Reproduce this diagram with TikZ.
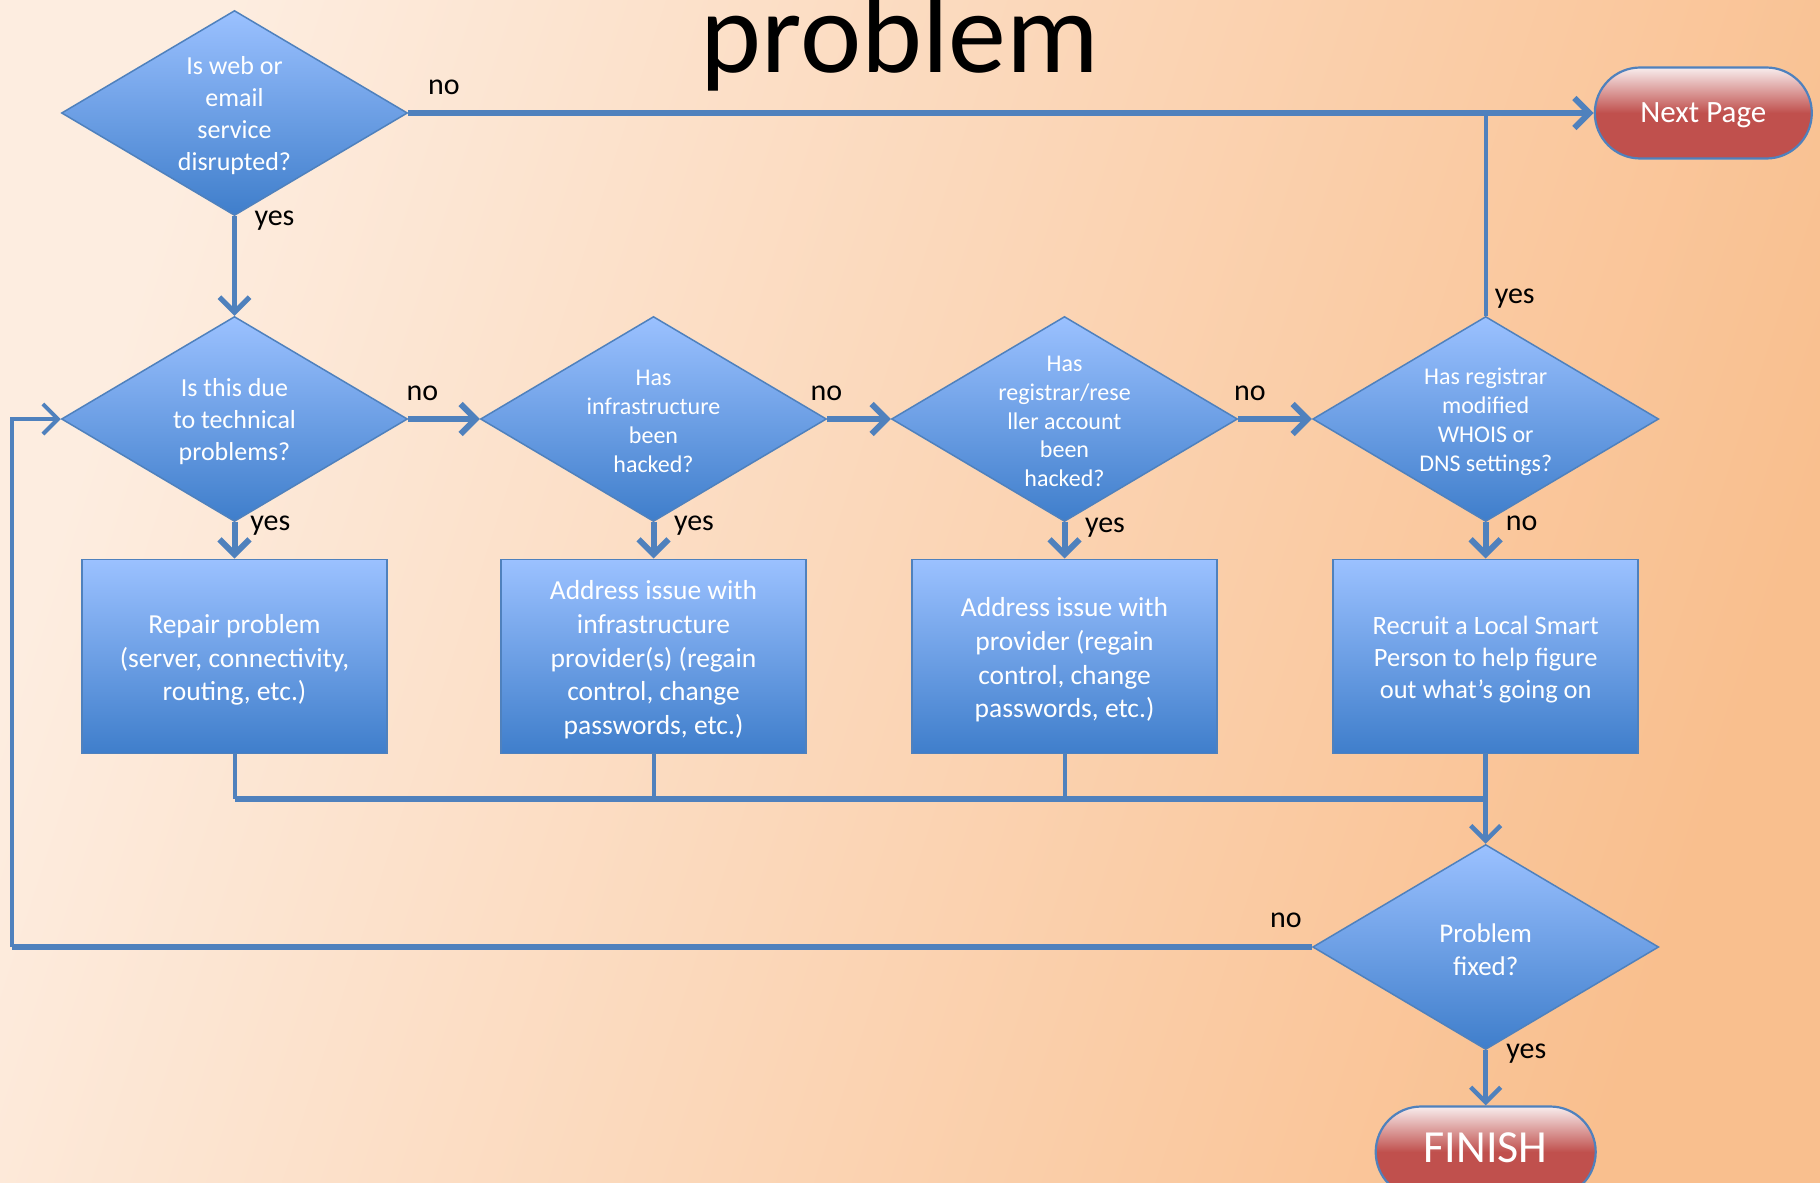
\documentclass[tikz,border=0pt]{standalone}
\usepackage{fontspec}
\setmainfont{Carlito}
\usetikzlibrary{shapes.geometric,shapes.misc,arrows.meta}
\definecolor{lineblue}{HTML}{4F81BD}
\definecolor{dtop}{HTML}{9BC1FF}
\definecolor{dbot}{HTML}{3F7ECB}
\definecolor{rtop}{HTML}{F8EDED}
\definecolor{rmid}{HTML}{C0504D}
\definecolor{bgA}{HTML}{FDEDE0}
\definecolor{bgB}{HTML}{F9BF8E}
\begin{document}
\begin{tikzpicture}[x=1pt,y=-1pt,
  conn/.style={draw=lineblue, line width=6pt},
  connthin/.style={draw=lineblue, line width=4pt},
  arr/.style={conn, -{Straight Barb[length=15pt,width=30pt]}},
  dia/.style={diamond, draw=lineblue, line width=1.5pt, top color=dtop, bottom color=dbot, inner sep=0pt, minimum width=346pt, minimum height=205pt},
  dtxt/.style={text=white, align=center, inner sep=0pt, yshift=-2.5pt},
  procbox/.style={rectangle, draw=lineblue, line width=1.8pt, top color=dtop, bottom color=dbot, minimum width=305pt, minimum height=194pt, inner sep=0pt},
  btxt/.style={text=white, align=center, inner sep=0pt, yshift=-3.5pt, font=\fontsize{27.5}{33.7}\selectfont},
  termnode/.style={rounded rectangle, draw=lineblue, line width=2.2pt, top color=rtop, bottom color=rmid, middle color=rmid, minimum width=217pt, minimum height=91pt, inner sep=0pt},
  ttxt/.style={text=white, inner sep=0pt},
  lbl/.style={text=black, inner sep=0pt, anchor=base, font=\fontsize{30}{36}\selectfont}
]
\useasboundingbox (0,0) rectangle (1820,1183);
\shade[top color=bgA, bottom color=bgB, shading angle=72] (0,0) rectangle (1820,1183);

\node[font=\fontsize{116}{130}\selectfont, anchor=base] (title) at (900,72) {problem};

\node[dia, label={[dtxt, font=\fontsize{26}{32}\selectfont]center:{Is web or\\email\\service\\disrupted?}}] (d0) at (234.5,113) {};
\node[dia, label={[dtxt, font=\fontsize{26}{32}\selectfont]center:{Is this due\\to technical\\problems?}}] (d1) at (234.5,419) {};
\node[dia, label={[dtxt, font=\fontsize{24}{29}\selectfont]center:{Has\\infrastructure\\been\\hacked?}}] (d2) at (653.5,419) {};
\node[dia, label={[dtxt, font=\fontsize{24}{28.7}\selectfont]center:{Has\\registrar/rese\\ller account\\been\\hacked?}}] (d3) at (1064.5,419) {};
\node[dia, label={[dtxt, font=\fontsize{24}{29}\selectfont]center:{Has registrar\\modified\\WHOIS or\\DNS settings?}}] (d4) at (1485.7,419) {};
\node[dia, label={[dtxt, font=\fontsize{27}{32.5}\selectfont]center:{Problem\\fixed?}}] (d5) at (1485.7,947) {};

\node[procbox, label={[btxt]center:{Repair problem\\(server, connectivity,\\routing, etc.)}}] (b1) at (234.5,656.4) {};
\node[procbox, label={[btxt]center:{Address issue with\\infrastructure\\provider(s) (regain\\control, change\\passwords, etc.)}}] (b2) at (653.5,656.4) {};
\node[procbox, label={[btxt]center:{Address issue with\\provider (regain\\control, change\\passwords, etc.)}}] (b3) at (1064.5,656.4) {};
\node[procbox, label={[btxt, font=\fontsize{26.5}{32}\selectfont]center:{Recruit a Local Smart\\Person to help figure\\out what’s going on}}] (b4) at (1485.7,656.4) {};

\node[termnode, label={[ttxt, yshift=-2.5pt, font=\fontsize{31}{36}\selectfont]center:{Next Page}}] (np) at (1703.3,113) {};
\node[termnode, minimum width=220pt, label={[ttxt, yshift=4pt, font=\fontsize{46}{52}\selectfont]center:{FINISH}}] (fin) at (1485.7,1152) {};

\coordinate (jn) at (1485.7,798.6);
\coordinate (lx) at (11.6,419);

% connectors
\draw[arr] (d0.east) -- (np.west);
\draw[connthin] (d4.north) -- (d4.north |- np.west);
\draw[arr, line width=5pt] (d0.south) -- (d1.north);
\draw[arr] (d1.east) -- (d2.west);
\draw[arr] (d2.east) -- (d3.west);
\draw[arr] (d3.east) -- (d4.west);
\draw[arr] (d1.south) -- (b1.north);
\draw[arr] (d2.south) -- (b2.north);
\draw[arr] (d3.south) -- (b3.north);
\draw[arr] (d4.south) -- (b4.north);
\draw[connthin] (b1.south) -- (b1.south |- jn);
\draw[connthin] (b2.south) -- (b2.south |- jn);
\draw[connthin] (b3.south) -- (b3.south |- jn);
\draw[conn] (b1.south |- jn) -- (jn);
\draw[arr, line width=4.5pt] (b4.south) -- (d5.north);
\draw[conn] (d5.west) -- (d5.west -| lx);
\draw[arr, line width=4pt] (d5.west -| lx) -- (lx) -- (d1.west);
\draw[arr, line width=4.5pt] (d5.south) -- (fin.north);

% labels
\node[lbl] (l0n) at (444,94.3) {no};
\node[lbl] (l0y) at (274.5,225) {yes};
\node[lbl] (l1n) at (422.5,400.5) {no};
\node[lbl] (l2n) at (826.4,400.5) {no};
\node[lbl] (l3n) at (1250,400.5) {no};
\node[lbl] (l4y) at (1514.7,303) {yes};
\node[lbl] (l1y) at (270.4,530.5) {yes};
\node[lbl] (l2y) at (694,530.5) {yes};
\node[lbl] (l3y) at (1105,532.8) {yes};
\node[lbl] (l4n) at (1521.7,530.5) {no};
\node[lbl] (l5n) at (1286,927.4) {no};
\node[lbl] (l5y) at (1526.3,1058.6) {yes};
\end{tikzpicture}
\end{document}
